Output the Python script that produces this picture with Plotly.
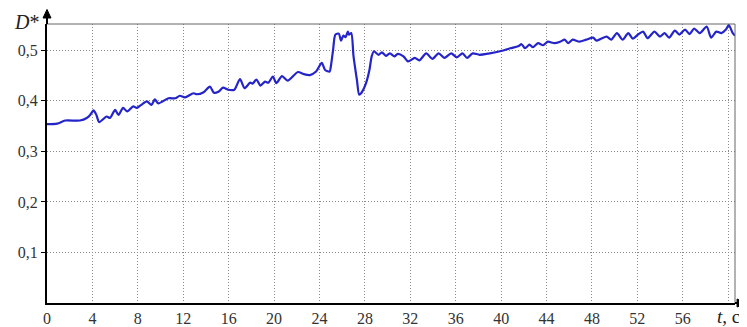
import plotly.graph_objects as go

# time, s
t = [0, 0.9, 1.6, 2.9, 3.5, 3.8, 4.1, 4.35, 4.6, 5.25, 5.55, 6.0, 6.3, 6.7, 7.07, 7.6, 7.9, 8.3,
     8.8, 9.2, 9.5, 9.8, 10.7, 11.3, 11.7, 12.15, 12.9, 13.2, 13.8, 14.35, 14.7, 15.1, 15.5, 15.96,
     16.5, 17.0, 17.4, 17.9, 18.1, 18.45, 18.8, 19.2, 19.5, 19.9, 20.2, 20.7, 21.2, 22.1, 22.6,
     23.15, 23.7, 24.2, 24.5, 24.9, 25.0, 25.2, 25.4, 25.7, 25.9, 26.1, 26.3, 26.5, 26.6, 26.8,
     27.0, 27.3, 27.5, 27.7, 28.1, 28.4, 28.6, 28.8, 29.2, 29.5, 29.85, 30.2, 30.6, 30.9, 31.4,
     31.8, 32.4, 32.8, 33.4, 33.95, 34.5, 35.0, 35.6, 36.1, 36.6, 37.0, 37.5, 38.1, 39.0, 39.9,
     40.8, 41.5, 41.8, 42.1, 42.5, 42.8, 43.25, 43.7, 44.1, 44.7, 45.2, 45.6, 45.9, 46.3, 46.9,
     47.5, 48.1, 48.4, 48.8, 49.3, 49.7, 50.2, 50.7, 51.2, 51.6, 52.05, 52.5, 52.9, 53.5, 54.0,
     54.4, 54.8, 55.3, 55.7, 56.2, 56.6, 57.0, 57.5, 58.1, 58.5, 58.95, 59.4, 59.8, 60.05, 60.4, 60.6]

# D*
d = [0.354, 0.355, 0.361, 0.361, 0.366, 0.372, 0.381, 0.372, 0.358, 0.369, 0.366, 0.382, 0.372, 0.386,
     0.379, 0.389, 0.386, 0.392, 0.399, 0.392, 0.403, 0.395, 0.405, 0.405, 0.410, 0.407, 0.415, 0.413,
     0.417, 0.428, 0.416, 0.418, 0.426, 0.422, 0.422, 0.443, 0.425, 0.436, 0.434, 0.442, 0.430, 0.438,
     0.436, 0.448, 0.435, 0.449, 0.440, 0.457, 0.453, 0.451, 0.458, 0.475, 0.461, 0.458, 0.468, 0.501,
     0.531, 0.533, 0.519, 0.529, 0.526, 0.537, 0.531, 0.534, 0.488, 0.441, 0.412, 0.416, 0.435, 0.461,
     0.488, 0.498, 0.491, 0.496, 0.489, 0.494, 0.488, 0.493, 0.488, 0.478, 0.485, 0.480, 0.494, 0.483,
     0.494, 0.485, 0.494, 0.486, 0.494, 0.485, 0.494, 0.491, 0.494, 0.498, 0.504, 0.508, 0.512, 0.504,
     0.511, 0.506, 0.514, 0.510, 0.517, 0.514, 0.517, 0.521, 0.514, 0.521, 0.517, 0.521, 0.525, 0.519,
     0.523, 0.527, 0.521, 0.534, 0.521, 0.534, 0.523, 0.531, 0.537, 0.524, 0.537, 0.527, 0.534, 0.525,
     0.539, 0.531, 0.541, 0.532, 0.543, 0.534, 0.547, 0.525, 0.537, 0.534, 0.541, 0.550, 0.534, 0.529]

x_tickvals = [0, 4, 8, 12, 16, 20, 24, 28, 32, 36, 40, 44, 48, 52, 56, 60]
x_ticktext = ["0", "4", "8", "12", "16", "20", "24", "28", "32", "36", "40", "44", "48", "52", "56", ""]
y_tickvals = [0.1, 0.2, 0.3, 0.4, 0.5]
y_ticktext = ["0,1", "0,2", "0,3", "0,4", "0,5"]

FONT = "Liberation Serif, Times New Roman, DejaVu Serif, serif"

fig = go.Figure()
fig.add_trace(go.Scatter(x=t, y=d, mode="lines",
                         line=dict(color="#2424c8", width=2.2, shape="spline", smoothing=0.7),
                         showlegend=False, hoverinfo="skip"))

fig.update_layout(
    width=739, height=319,
    margin=dict(l=39, r=12, t=16, b=24, autoexpand=False),
    paper_bgcolor="white", plot_bgcolor="white",
    font=dict(family=FONT, size=16, color="#333"),
    xaxis=dict(range=[0, 60.6], tickvals=x_tickvals, ticktext=x_ticktext,
               showgrid=True, gridcolor="#8a8a8a", griddash="1px,2px", gridwidth=1,
               showline=True, linecolor="black", linewidth=2,
               ticks="", zeroline=False, fixedrange=True, automargin=False,
               tickfont=dict(family=FONT, size=16, color="#333")),
    yaxis=dict(range=[0, 0.552], tickvals=y_tickvals, ticktext=y_ticktext,
               showgrid=True, gridcolor="#8a8a8a", griddash="1px,2px", gridwidth=1,
               showline=True, linecolor="black", linewidth=2,
               ticks="outside", ticklen=4, tickcolor="black", tickwidth=1,
               zeroline=False, fixedrange=True, automargin=False,
               tickfont=dict(family=FONT, size=16, color="#333")),
    shapes=[
        # top and right frame
        dict(type="line", xref="paper", yref="paper", x0=0, x1=1, y0=1, y1=1,
             line=dict(color="#666", width=1)),
        dict(type="line", xref="paper", yref="paper", x0=1, x1=1, y0=0, y1=1,
             line=dict(color="#666", width=1)),
        # y axis extension + arrow
        dict(type="line", xref="paper", yref="paper", x0=0, x1=0, y0=1, y1=1.025,
             line=dict(color="black", width=2)),
        dict(type="path", xref="paper", yref="paper",
             path="M -0.0058,1.0215 L 0.0058,1.0215 L 0,1.052 Z",
             fillcolor="black", line=dict(color="black", width=1)),
        # x axis extension + arrow
        dict(type="line", xref="paper", yref="paper", x0=1, x1=1.004, y0=0, y1=0,
             line=dict(color="black", width=2)),
        dict(type="path", xref="paper", yref="paper",
             path="M 1.003,-0.0143 L 1.003,0.0143 L 1.0165,0 Z",
             fillcolor="black", line=dict(color="black", width=1)),
    ],
    annotations=[
        dict(text="<i>D</i>*", xref="paper", yref="paper", x=-0.0305, y=1.006,
             xanchor="center", yanchor="middle", showarrow=False,
             font=dict(family=FONT, size=20, color="#222")),
        dict(text="<i>t</i>, c", xref="paper", yref="paper", x=0.991, y=-0.047,
             xanchor="center", yanchor="middle", showarrow=False,
             font=dict(family=FONT, size=19, color="#222")),
    ],
)

fig.write_html("out.html")
